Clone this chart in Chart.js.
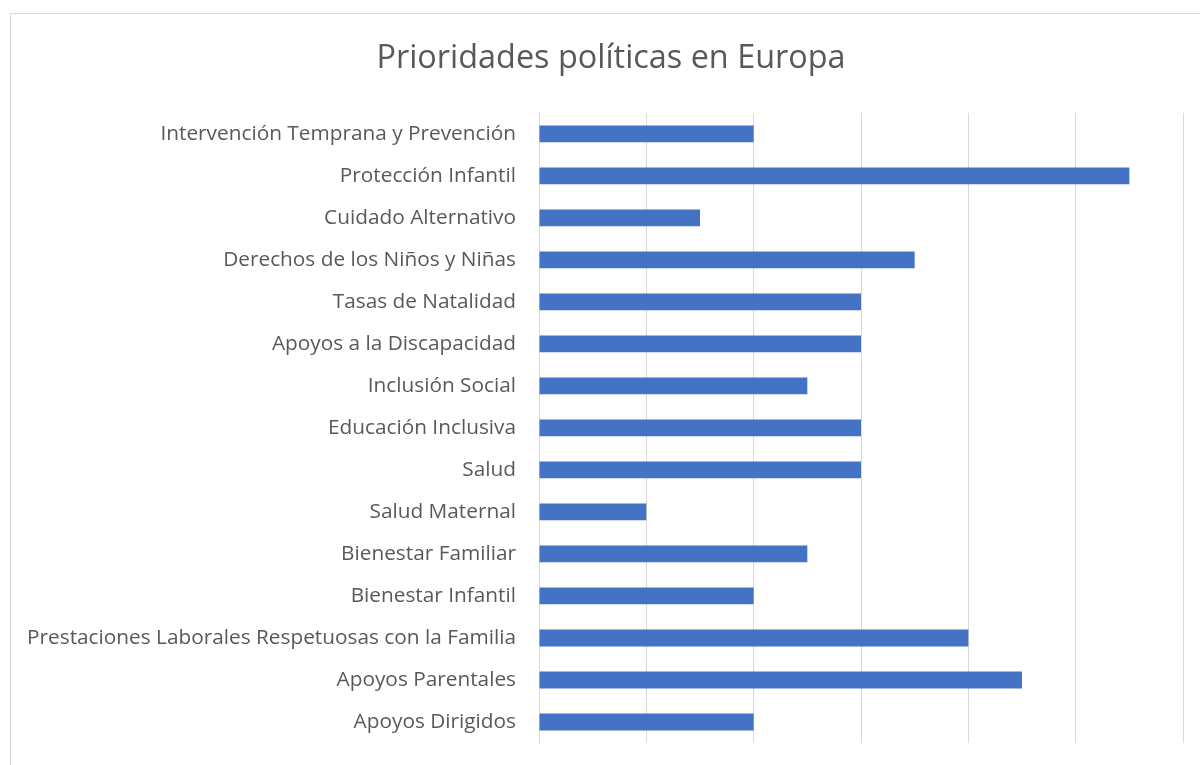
<!DOCTYPE html>
<html>
<head>
<meta charset="utf-8">
<script src="https://cdn.jsdelivr.net/npm/chart.js@4"></script>
<style>
  html, body { margin: 0; padding: 0; background: #fff; overflow: hidden; }
  #frame {
    position: absolute; left: 10px; top: 13px; width: 1200px; height: 800px;
    border: 1px solid #d9d9d9; box-sizing: border-box;
  }
  #wrap { position: absolute; left: 0; top: 0; width: 1200px; height: 765px; }
</style>
</head>
<body>
<div id="frame"></div>
<div id="wrap"><canvas id="chart" width="1200" height="765"></canvas></div>
<script>
var categories = [
  "Intervención Temprana y Prevención",
  "Protección Infantil",
  "Cuidado Alternativo",
  "Derechos de los Niños y Niñas",
  "Tasas de Natalidad",
  "Apoyos a la Discapacidad",
  "Inclusión Social",
  "Educación Inclusiva",
  "Salud",
  "Salud Maternal",
  "Bienestar Familiar",
  "Bienestar Infantil",
  "Prestaciones Laborales Respetuosas con la Familia",
  "Apoyos Parentales",
  "Apoyos Dirigidos"
];
var counts = [4, 11, 3, 7, 6, 6, 5, 6, 6, 2, 5, 4, 8, 9, 4];
var axisMax = 12;
var axisStep = 2;

var grey = '#595959';

// long labels run past the left padding, so let the y axis draw them there
var labelRoom = {
  id: 'labelRoom',
  afterLayout: function(chart) { chart.scales.y.left = 0; }
};

new Chart(document.getElementById("chart"), {
  type: 'bar',
  data: {
    labels: categories,
    datasets: [
      {
        label: "Prioridades",
        data: counts,
        backgroundColor: '#4472C4',
        barPercentage: 0.4,
        categoryPercentage: 1.0
      }
    ]
  },
  plugins: [labelRoom],
  options: {
    indexAxis: 'y',
    responsive: false,
    animation: false,
    layout: { padding: { left: 39, right: 17, top: 0, bottom: 22 } },
    scales: {
      x: {
        min: 0,
        max: axisMax,
        ticks: { display: false, stepSize: axisStep },
        grid: { color: '#d9d9d9', lineWidth: 1, drawTicks: false },
        border: { display: false }
      },
      y: {
        grid: { display: false, drawTicks: false },
        border: { display: true, color: '#d9d9d9' },
        ticks: {
          color: grey,
          padding: 23,
          autoSkip: false,
          font: { family: "'Open Sans', 'Noto Sans', sans-serif", size: 20.8 }
        },
        afterFit: function(scale) {
          scale.width = 500;
          scale.paddingTop = 0;
          scale.paddingBottom = 0;
        }
      }
    },
    plugins: {
      legend: { display: false },
      tooltip: { enabled: false },
      title: {
        display: true,
        text: 'Prioridades políticas en Europa',
        color: grey,
        font: { family: "'Open Sans', 'Noto Sans', sans-serif", size: 32.4, weight: 'normal' },
        padding: { top: 39, bottom: 35 }
      }
    }
  }
});
</script>
</body>
</html>
